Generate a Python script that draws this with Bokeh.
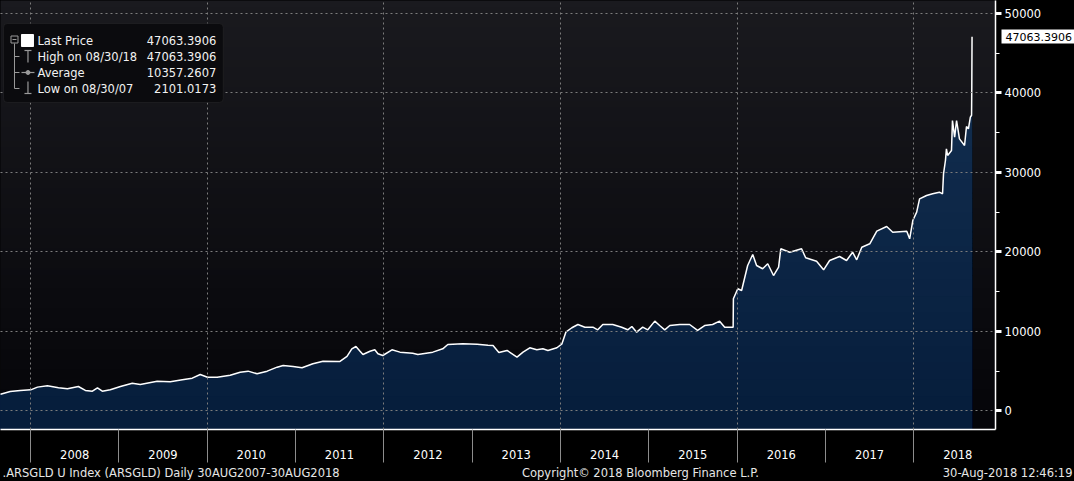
from datetime import datetime
import numpy as np
import pandas as pd
from bokeh.plotting import figure
from bokeh.layouts import column
from bokeh.models import (Range1d, FixedTicker, DatetimeTickFormatter, LinearAxis,
                          PrintfTickFormatter, Label, BoxAnnotation)
from bokeh.core.properties import value
from bokeh.embed import file_html
from bokeh.resources import INLINE

# ---------------- data ----------------
dates = [
    "2007-08-30", "2007-10-09", "2007-11-20", "2008-01-02", "2008-01-30", "2008-03-11",
    "2008-04-26", "2008-06-02", "2008-07-17", "2008-08-15", "2008-09-13", "2008-10-04",
    "2008-10-24", "2008-11-26", "2009-01-07", "2009-02-25", "2009-03-30", "2009-06-08",
    "2009-08-01", "2009-09-20", "2009-10-31", "2009-12-03", "2010-01-02", "2010-02-11",
    "2010-04-06", "2010-05-17", "2010-06-19", "2010-07-26", "2010-09-06", "2010-10-17",
    "2010-11-11", "2010-12-22", "2011-01-28", "2011-03-14", "2011-04-25", "2011-07-04",
    "2011-08-02", "2011-08-22", "2011-09-08", "2011-09-25", "2011-10-07", "2011-11-05",
    "2011-11-25", "2011-12-08", "2011-12-28", "2012-02-04", "2012-03-08", "2012-04-30",
    "2012-05-21", "2012-07-22", "2012-09-01", "2012-09-22", "2012-11-23", "2013-01-21",
    "2013-03-07", "2013-03-28", "2013-04-21", "2013-05-25", "2013-07-05", "2013-07-30",
    "2013-08-27", "2013-09-25", "2013-10-20", "2013-11-10", "2013-12-17", "2014-01-07",
    "2014-01-23", "2014-02-17", "2014-03-14", "2014-04-12", "2014-05-15", "2014-06-04",
    "2014-06-25", "2014-08-05", "2014-09-11", "2014-10-06", "2014-10-23", "2014-11-12",
    "2014-12-07", "2014-12-28", "2015-01-26", "2015-02-15", "2015-03-08", "2015-03-29",
    "2015-05-09", "2015-06-19", "2015-07-22", "2015-08-20", "2015-09-22", "2015-10-21",
    "2015-11-11", "2015-12-16", "2015-12-17", "2016-01-04", "2016-01-20", "2016-02-14",
    "2016-03-06", "2016-03-22", "2016-04-16", "2016-05-07", "2016-05-31", "2016-06-21",
    "2016-06-30", "2016-08-06", "2016-09-24", "2016-10-11", "2016-11-25", "2016-12-24",
    "2017-01-18", "2017-02-28", "2017-03-29", "2017-04-23", "2017-05-10", "2017-05-31",
    "2017-07-03", "2017-08-01", "2017-09-11", "2017-10-06", "2017-12-03", "2017-12-15",
    "2017-12-28", "2018-01-13", "2018-01-25", "2018-02-23", "2018-03-20", "2018-04-17",
    "2018-04-30", "2018-05-04", "2018-05-12", "2018-05-16", "2018-05-21", "2018-06-06",
    "2018-06-10", "2018-06-19", "2018-06-27", "2018-07-09", "2018-07-30", "2018-08-07",
    "2018-08-15", "2018-08-23", "2018-08-28", "2018-08-29", "2018-08-30",
]
prices = [
    2101.0173, 2450, 2580, 2660, 3000, 3170,
    2920, 2790, 3080, 2580, 2490, 2920,
    2490, 2660, 3080, 3500, 3330, 3750,
    3670, 3920, 4130, 4590, 4250, 4250,
    4500, 4880, 5010, 4680, 5010, 5510,
    5720, 5600, 5430, 5940, 6260, 6230,
    6860, 7820, 8110, 7520, 7110, 7520,
    7700, 7190, 6980, 7700, 7400, 7270,
    7110, 7400, 7820, 8360, 8450, 8400,
    8280, 8240, 7350, 7610, 6770, 7400,
    7950, 7700, 7820, 7610, 7950, 8450,
    9910, 10470, 10880, 10540, 10540, 10210,
    10880, 10880, 10540, 10210, 10630, 9910,
    10540, 10210, 11300, 10750, 10210, 10750,
    10880, 10880, 10130, 10750, 10880, 11300,
    10540, 10540, 14110, 15370, 15160, 18300,
    19690, 18300, 17890, 18520, 17040, 18090,
    20400, 19970, 20400, 19270, 18840, 17760,
    18930, 19430, 18930, 19970, 19020, 20600,
    21030, 22620, 23210, 22490, 22620, 21660,
    23960, 25010, 26690, 27110, 27320, 27520,
    27320, 29830, 31510, 32980, 32140, 32770,
    36540, 34440, 36540, 34230, 33400, 35790,
    35500, 36960, 37200, 40900, 47063.3906,
]
stat_labels = ["Last Price", "High on 08/30/18", "Average", "Low on 08/30/07"]
stat_values = ["47063.3906", "47063.3906", "10357.2607", "2101.0173"]
year_labels = [2008, 2009, 2010, 2011, 2012, 2013, 2014, 2015, 2016, 2017, 2018]
y_ticks = [0, 10000, 20000, 30000, 40000, 50000]
y_minor = [5000, 15000, 25000, 35000, 45000]
footer_left = ".ARSGLD U Index (ARSGLD)  Daily 30AUG2007-30AUG2018"
footer_mid = "Copyright\u00a9 2018 Bloomberg Finance L.P."
footer_right = "30-Aug-2018 12:46:19"

# ---------------- geometry helpers ----------------
W = 1074
PH = 465          # main figure height
FOOT_H = 16       # footer strip height
FW, FH = 996, 429
EPOCH = datetime(1970, 1, 1)


def ms(dt):
    return (dt - EPOCH).total_seconds() * 1000.0


XS, XE = ms(datetime(2007, 8, 30)), ms(datetime(2018, 12, 5))
Y0, Y1 = -2330.0, 51635.0


def X(px):
    return XS + px / FW * (XE - XS)


def Y(py):
    return Y1 - py / FH * (Y1 - Y0)


FONT = "DejaVu Sans"
FS = "11.5px"

x = pd.to_datetime(dates)
pr = np.array(prices, dtype=float)

p = figure(width=W, height=PH, x_axis_type="datetime", y_axis_location="right",
           x_range=Range1d(XS, XE), y_range=Range1d(Y0, Y1),
           output_backend="svg", toolbar_location=None,
           min_border_left=0, min_border_top=0, min_border_right=W - FW,
           min_border_bottom=PH - FH,
           background_fill_color="#0e0e12", border_fill_color="black",
           outline_line_color=None)

# background vertical gradient
n = 64
img = np.empty((n, 1), dtype=np.uint32)
view = img.view(dtype=np.uint8).reshape((n, 1, 4))
c_bot = np.array([5, 5, 9])
c_top = np.array([26, 26, 31])
for i in range(n):
    t = i / (n - 1)
    c = (c_bot + (c_top - c_bot) * t).astype(int)
    view[i, 0, :] = [c[0], c[1], c[2], 255]
p.image_rgba(image=[img], x=XS, y=Y0, dw=XE - XS, dh=Y1 - Y0)

# area with vertical gradient (layered)
fb = np.array([6, 29, 59])
ft = np.array([17, 44, 77])


def fcol(v):
    t = (v - Y0) / (36000 - Y0)
    c = np.clip(fb + (ft - fb) * t, 0, 255).astype(int)
    return "#%02x%02x%02x" % tuple(c)


th = np.linspace(Y0, 48000, 25)[1:]
step = th[1] - th[0]
for t in th[::-1]:
    p.varea(x=x, y1=Y0, y2=np.minimum(pr, t), fill_color=fcol(t - step / 2),
            fill_alpha=1.0)

# grids
jan1 = [ms(datetime(y, 1, 1)) for y in year_labels]
mid = [ms(datetime(y, 7, 2)) for y in year_labels]
p.xgrid.ticker = FixedTicker(ticks=[ms(datetime(y, 1, 1)) for y in year_labels if y % 2 == 0])
for g in (p.xgrid[0], p.ygrid[0]):
    g.grid_line_color = "#7c7c7c"
    g.grid_line_dash = "2 3"
    g.grid_line_width = 1
    g.level = "guide"

# price line
p.line(x, pr, line_color="white", line_width=1.5, level="guide")

# x axis
xa = p.xaxis[0]
xa.ticker = FixedTicker(ticks=mid, minor_ticks=jan1)
fmt = "%Y"
xa.formatter = DatetimeTickFormatter(years=fmt, months=fmt, days=fmt, hours=fmt,
                                     hourmin=fmt, minutes=fmt, minsec=fmt,
                                     seconds=fmt, milliseconds=fmt, microseconds=fmt)
xa.major_tick_out = 0
xa.major_tick_in = 0
xa.major_tick_line_color = None
xa.minor_tick_out = 33
xa.minor_tick_in = 0
xa.minor_tick_line_color = "#8c8c8c"
xa.minor_tick_line_width = 1
xa.axis_line_color = "white"
xa.axis_line_width = 1.5
xa.major_label_standoff = -13
xa.major_label_text_color = "white"
xa.major_label_text_font = FONT
xa.major_label_text_font_size = FS

# y axis
ya = p.yaxis[0]
ya.ticker = FixedTicker(ticks=y_ticks, minor_ticks=y_minor)
ya.formatter = PrintfTickFormatter(format="%d")
ya.axis_line_color = "white"
ya.axis_line_width = 1.5
ya.major_tick_out = 6
ya.major_tick_in = 0
ya.major_tick_line_width = 3
ya.major_tick_line_color = "white"
ya.minor_tick_out = 4
ya.minor_tick_in = 0
ya.minor_tick_line_color = "white"
ya.major_label_standoff = 3
ya.major_label_text_color = "white"
ya.major_label_text_font = FONT
ya.major_label_text_font_size = FS

# last price tag: a second right axis with one white tick bar
tag = LinearAxis(ticker=FixedTicker(ticks=[prices[-1]], minor_ticks=[]),
                 formatter=PrintfTickFormatter(format="%.4f"))
tag.axis_line_color = None
tag.major_tick_in = 43
tag.major_tick_out = 30
tag.major_tick_line_width = 14
tag.major_tick_line_color = "white"
tag.minor_tick_line_color = None
tag.major_label_standoff = -69
tag.major_label_text_color = "black"
tag.major_label_text_font = FONT
tag.major_label_text_font_size = "11px"
p.add_layout(tag, "right")

# legend box
p.add_layout(BoxAnnotation(left=X(3), right=X(223), top=Y(23), bottom=Y(102),
                           fill_color="#0b0b0e", fill_alpha=1.0,
                           line_color="#3a3a3a", line_width=1, border_radius=4))
rows_py = [40, 56, 72, 88]
for lab, val, py in zip(stat_labels, stat_values, rows_py):
    p.add_layout(Label(x=X(37), y=Y(py), text=lab, text_baseline="middle",
                       text_align="left", text_color="#f2f2f2", text_font=FONT,
                       text_font_size=FS))
    p.add_layout(Label(x=X(216), y=Y(py), text=val, text_baseline="middle",
                       text_align="right", text_color="#f2f2f2", text_font=FONT,
                       text_font_size=FS))

# legend icons
icol = "#9a9a9a"
p.scatter([X(14)], [Y(39)], marker="square", size=7, fill_color=None,
          line_color=icol, level="overlay")
p.scatter([X(14)], [Y(39)], marker="dash", size=4, line_color=icol, level="overlay")
p.segment(x0=[X(14), X(14), X(14), X(14)], y0=[Y(43), Y(56), Y(72), Y(88)],
          x1=[X(14), X(19), X(19), X(19)], y1=[Y(88), Y(56), Y(72), Y(88)],
          line_color=icol, line_width=1, level="overlay")
p.scatter([X(27)], [Y(40)], marker="square", size=12, fill_color="white",
          line_color="white", level="overlay")
p.segment(x0=[X(24), X(27.5), X(21), X(27.5), X(24)],
          y0=[Y(50), Y(50), Y(72), Y(81), Y(93)],
          x1=[X(31), X(27.5), X(34), X(27.5), X(31)],
          y1=[Y(50), Y(62), Y(72), Y(93), Y(93)],
          line_color=icol, line_width=1.2, level="overlay")
p.scatter([X(27.5)], [Y(72)], marker="circle", size=4, fill_color=icol,
          line_color=icol, level="overlay")

# footer strip
f = figure(frame_width=W, frame_height=FOOT_H, x_range=Range1d(0, W),
           y_range=Range1d(0, FOOT_H),
           x_axis_type=None, y_axis_type=None, output_backend="svg",
           toolbar_location=None, min_border=0, min_border_left=0,
           min_border_right=0, min_border_top=0, min_border_bottom=0,
           background_fill_color="black",
           border_fill_color="black", outline_line_color=None)
f.xgrid.visible = False
f.ygrid.visible = False
for txt, px, al in ((footer_left, 2, "left"), (footer_mid, 640, "center"),
                    (footer_right, 1072, "right")):
    f.text(x=[px], y=[9], text=[txt], text_align=al, text_baseline="middle",
           text_font=value(FONT), text_font_size=FS, text_color="#e6e6e6")

layout = column(p, f, spacing=0,
                styles={"position": "absolute", "left": "0px", "top": "0px",
                        "background-color": "black"})

open("out.html", "w").write(file_html(layout, INLINE))
